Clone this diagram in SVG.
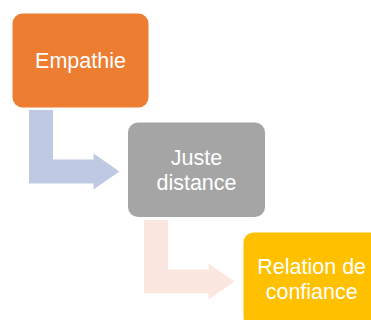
<svg xmlns="http://www.w3.org/2000/svg" width="371" height="320" viewBox="0 0 371 320">
<style>
.lbl{font-family:"Liberation Sans",Arial,sans-serif;font-size:21.5px;fill:#ffffff;text-anchor:middle}
</style>
<rect width="371" height="320" fill="#ffffff"/>
<g id="connectors">
<path d="M29,110 H53 V159.5 H93.5 V153.5 L119.5,171.5 L93.5,189.5 V183.5 H29 Z" fill="#BFC9E4"/>
<path d="M144,220 H168 V269.5 H208.5 V263.5 L234.5,281.5 L208.5,299.5 V293.5 H144 Z" fill="#FCE7E0"/>
</g>
<g id="node-empathie">
<rect x="12.5" y="13.5" width="136" height="94" rx="10" fill="#ED7D31"/>
<text class="lbl" x="80.5" y="67.5">Empathie</text>
</g>
<g id="node-juste-distance">
<rect x="128" y="122.5" width="137" height="94.5" rx="10" fill="#A5A5A5"/>
<text class="lbl" x="196.5" y="165">Juste</text>
<text class="lbl" x="196.5" y="189.5">distance</text>
</g>
<g id="node-relation">
<rect x="243.5" y="232.5" width="137" height="94.5" rx="10" fill="#FFC000"/>
<text class="lbl" x="311.7" y="273.8">Relation de</text>
<text class="lbl" x="311.7" y="298.5">confiance</text>
</g>
</svg>
